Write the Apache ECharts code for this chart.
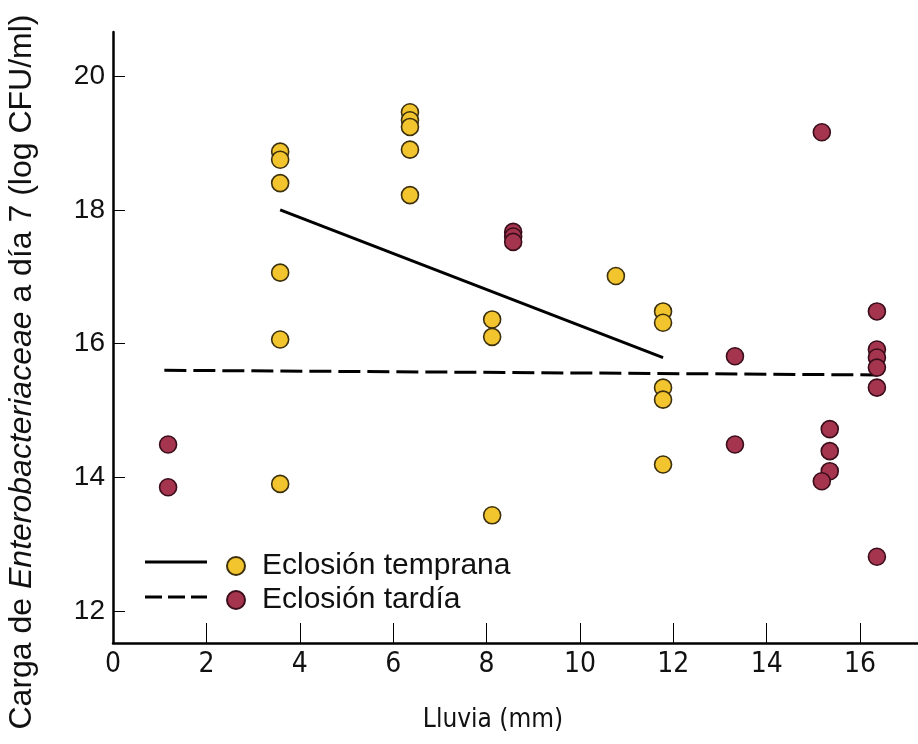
<!DOCTYPE html>
<html>
<head>
<meta charset="utf-8">
<script src="https://cdn.jsdelivr.net/npm/echarts@6/dist/echarts.min.js"></script>
<style>
  html, body { margin: 0; padding: 0; background: #fff; }
  #chart { width: 918px; height: 744px; }
</style>
</head>
<body>
<div id="chart"></div>
<script>
// early hatch (yellow)
const rainEarly = [3.58, 3.58, 3.58, 3.58, 3.58, 3.58, 6.36, 6.36, 6.36, 6.36, 6.36, 8.12, 8.12, 8.12, 10.77, 11.78, 11.78, 11.78, 11.78, 11.78];
const loadEarly = [18.87, 18.75, 18.40, 17.06, 16.06, 13.90, 19.46, 19.34, 19.24, 18.90, 18.22, 16.36, 16.10, 13.43, 17.01, 16.48, 16.31, 15.34, 15.16, 14.19];
// late hatch (red)
const rainLate = [1.18, 1.18, 8.57, 8.57, 8.57, 13.32, 13.32, 15.18, 15.35, 15.35, 15.35, 15.18, 16.36, 16.36, 16.36, 16.36, 16.36, 16.36];
const loadLate = [14.49, 13.85, 17.67, 17.60, 17.52, 15.81, 14.49, 19.16, 14.72, 14.39, 14.09, 13.94, 16.48, 15.91, 15.79, 15.64, 15.34, 12.81];
// trend lines (end points)
const fitEarlyX = [3.58, 11.78];
const fitEarlyY = [18.0, 15.79];
const fitLateX = [1.1, 16.36];
const fitLateY = [15.60, 15.53];

const xTicks = [0, 2, 4, 6, 8, 10, 12, 14, 16];
const yTicks = [12, 14, 16, 18, 20];
const seriesNames = ['Eclosión temprana', 'Eclosión tardía'];

const zip = (a, b) => a.map((v, i) => [v, b[i]]);

const chart = echarts.init(document.getElementById('chart'));
const narrow = "'Liberation Sans Narrow', 'DejaVu Sans Condensed', 'Liberation Sans', sans-serif";
const sans = "'Liberation Sans', Arial, sans-serif";

chart.setOption({
  backgroundColor: '#fff',
  animation: false,
  grid: { left: 113, top: 32, right: 0, bottom: 101 },
  xAxis: {
    type: 'value',
    min: 0,
    max: 17.24,
    splitLine: { show: false },
    axisLine: { lineStyle: { color: '#000', width: 2.5 } },
    axisTick: { inside: true, length: 20, customValues: xTicks, lineStyle: { color: '#000', width: 1 } },
    axisLabel: { customValues: xTicks, color: '#111', fontSize: 28, fontFamily: narrow, margin: 8 }
  },
  yAxis: {
    type: 'value',
    min: 11.52,
    max: 20.66,
    splitLine: { show: false },
    axisLine: { show: true, lineStyle: { color: '#000', width: 2.5 } },
    axisTick: { show: true, inside: true, length: 12, customValues: yTicks, lineStyle: { color: '#000', width: 1 } },
    axisLabel: { customValues: yTicks, color: '#111', fontSize: 28, fontFamily: sans, margin: 8 }
  },
  legend: {
    data: seriesNames,
    orient: 'vertical',
    left: 221,
    top: 546,
    itemWidth: 18,
    itemHeight: 18,
    itemGap: 4,
    icon: 'circle',
    textStyle: { fontSize: 30, fontFamily: sans, color: '#111', padding: [0, 0, 0, 12] }
  },
  graphic: [
    { type: 'line', shape: { x1: 145, y1: 562, x2: 207, y2: 562 }, style: { stroke: '#000', lineWidth: 3 } },
    { type: 'line', shape: { x1: 145, y1: 597, x2: 207, y2: 597 }, style: { stroke: '#000', lineWidth: 3, lineDash: [17, 6] } },
    {
      type: 'text', x: 22, y: 372, rotation: Math.PI / 2,
      style: {
        text: '{n|Carga de }{i|Enterobacteriaceae}{n| a día 7 (log CFU/ml)}',
        align: 'center', verticalAlign: 'middle',
        rich: {
          n: { fontSize: 32, fontFamily: sans, fill: '#111' },
          i: { fontSize: 32, fontFamily: sans, fontStyle: 'italic', fill: '#111' }
        }
      }
    },
    {
      type: 'text', x: 493, y: 720,
      style: { text: 'Lluvia (mm)', align: 'center', verticalAlign: 'middle', fontSize: 26, fontFamily: narrow, fill: '#111' }
    }
  ],
  series: [
    {
      name: seriesNames[0], type: 'scatter', symbolSize: 17, z: 3,
      itemStyle: { color: '#F2C42E', borderColor: '#3d300c', borderWidth: 1.6, opacity: 1 },
      data: zip(rainEarly, loadEarly)
    },
    {
      name: seriesNames[1], type: 'scatter', symbolSize: 17, z: 3,
      itemStyle: { color: '#A5354F', borderColor: '#3a0d1a', borderWidth: 1.6, opacity: 1 },
      data: zip(rainLate, loadLate)
    },
    {
      type: 'line', showSymbol: false, silent: true, z: 2,
      lineStyle: { color: '#000', width: 3 },
      data: zip(fitEarlyX, fitEarlyY)
    },
    {
      type: 'line', showSymbol: false, silent: true, z: 2,
      lineStyle: { color: '#000', width: 3, type: [22, 7] },
      data: zip(fitLateX, fitLateY)
    }
  ]
});
</script>
</body>
</html>
